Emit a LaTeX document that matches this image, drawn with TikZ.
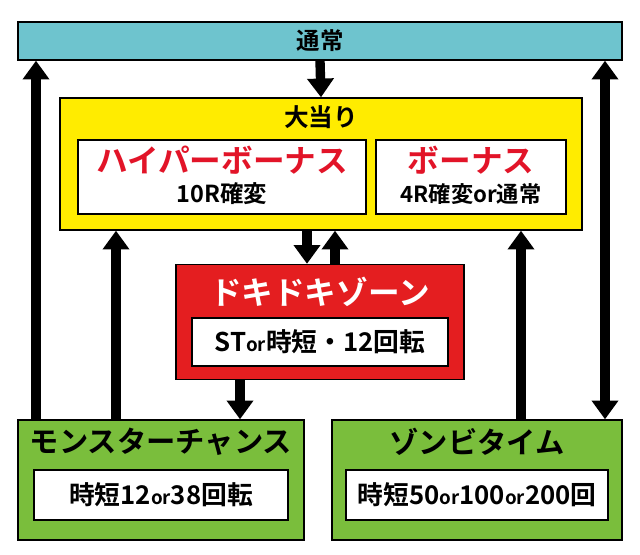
\documentclass[tikz,border=0pt]{standalone}
\usepackage{fontspec}
\setmainfont{Noto Sans CJK JP}[BoldFont={Noto Sans CJK JP Bold}]
\usetikzlibrary{arrows.meta}
\definecolor{usual}{RGB}{110,196,206}
\definecolor{hityel}{RGB}{255,236,0}
\definecolor{zonered}{RGB}{228,30,32}
\definecolor{chgreen}{RGB}{122,190,60}
\definecolor{txtred}{RGB}{226,20,40}
\tikzset{
  box/.style={draw=black, line width=1.2pt, inner sep=0pt},
  arr/.style={line width=8pt, -{Triangle[width=22pt,length=16pt]}},
  darr/.style={line width=8pt, {Triangle[width=22pt,length=16pt]}-{Triangle[width=22pt,length=16pt]}}
}
\begin{document}
\begin{tikzpicture}[x=0.03cm,y=-0.03cm,font=\bfseries]
  \useasboundingbox[fill=white] (0,0) rectangle (640,554);

  % top bar
  \node[box, fill=usual, minimum width=604*0.03cm, minimum height=38*0.03cm] (usual) at (320,41) {\fontsize{20}{20}\selectfont 通常};

  % big hit
  \node[box, fill=hityel, minimum width=522*0.03cm, minimum height=132*0.03cm] (hit) at (321,164) {};
  \node (hittitle) at (321,117) {\fontsize{21}{21}\selectfont 大当り};
  \node[box, fill=white, minimum width=288*0.03cm, minimum height=74*0.03cm] (hyper) at (222,177) {};
  \node[text=txtred] (hypername) at (222,160) {\fontsize{27}{27}\selectfont ハイパーボーナス};
  \node (hyperinfo) at (222,194) {\fontsize{20}{20}\selectfont 10R確変};
  \node[box, fill=white, minimum width=190*0.03cm, minimum height=74*0.03cm] (bonus) at (471,177) {};
  \node[text=txtred] (bonusname) at (471,160) {\fontsize{27}{27}\selectfont ボーナス};
  \node (bonusinfo) at (471,194) {\fontsize{19}{19}\selectfont 4R確変or通常};

  % zone
  \node[box, fill=zonered, minimum width=288*0.03cm, minimum height=115*0.03cm] (zone) at (320,322) {};
  \node[text=white] (zonename) at (320,292) {\fontsize{27}{27}\selectfont ドキドキゾーン};
  \node[box, fill=white, minimum width=256*0.03cm, minimum height=48*0.03cm] (zoneinfo) at (320,342) {\fontsize{22}{22}\selectfont ST{\fontsize{16}{16}\selectfont or}時短・12回転};

  % chance modes
  \node[box, fill=chgreen, minimum width=286*0.03cm, minimum height=120*0.03cm] (monster) at (161,480) {};
  \node (monstername) at (161,442) {\fontsize{25}{25}\selectfont モンスターチャンス};
  \node[box, fill=white, minimum width=254*0.03cm, minimum height=50*0.03cm] (monsterinfo) at (161,495) {\fontsize{22}{22}\selectfont 時短12{\fontsize{16}{16}\selectfont or}38回転};
  \node[box, fill=chgreen, minimum width=290*0.03cm, minimum height=120*0.03cm] (zombie) at (477,480) {};
  \node (zombiename) at (477,442) {\fontsize{25}{25}\selectfont ゾンビタイム};
  \node[box, fill=white, minimum width=262*0.03cm, minimum height=50*0.03cm] (zombieinfo) at (477,495) {\fontsize{22}{22}\selectfont 時短50{\fontsize{16}{16}\selectfont or}100{\fontsize{16}{16}\selectfont or}200回};

  % arrows
  \draw[arr] (usual.south) -- (hit.north);
  \draw[arr] (monster.north -| 36,0) -- (usual.south -| 36,0);
  \draw[arr] (monster.north -| 116,0) -- (hit.south -| 116,0);
  \draw[arr] (hit.south -| 307,0) -- (zone.north -| 307,0);
  \draw[arr] (zone.north -| 335,0) -- (hit.south -| 335,0);
  \draw[arr] (zone.south -| 240,0) -- (monster.north -| 240,0);
  \draw[arr] (zombie.north -| 521,0) -- (hit.south -| 521,0);
  \draw[darr] (zombie.north -| 605,0) -- (usual.south -| 605,0);
\end{tikzpicture}
\end{document}
